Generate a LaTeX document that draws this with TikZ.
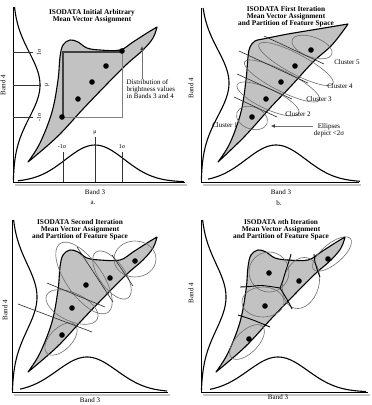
\documentclass[tikz,border=0pt]{standalone}
\usepackage{fontspec}
\setmainfont{Liberation Serif}
\usetikzlibrary{arrows.meta}
\definecolor{distfill}{HTML}{C2C2C2}
\definecolor{ellgray}{HTML}{6E6E6E}

% brightness distribution in bands 3 and 4 (panels a, c, d)
\tikzset{
  featsp/.pic={
    \filldraw[fill=distfill, draw=black, line width=1.1pt, line join=round]
      plot[smooth, tension=0.6] coordinates {(28,162) (40,143) (52,112) (58,80) (60,57) (63,45) (70,40) (78,42) (87,48) (100,50) (120,50) (133,42) (147,33) (157,27)}
      -- plot[smooth, tension=0.6] coordinates {(157,27) (153,38) (143,50) (127,64) (107,84) (83,109) (57,137) (28,162)}
      -- cycle;
  },
  % same distribution, straighter top edge (panel b)
  featspb/.pic={
    \filldraw[fill=distfill, draw=black, line width=1.1pt, line join=round]
      plot[smooth, tension=0.6] coordinates {(30,162) (42,143) (53,112) (58,80) (60,57) (62,47) (67,41) (75,39) (100,34) (130,29) (160,24)}
      -- plot[smooth, tension=0.6] coordinates {(160,24) (155,31) (143,46) (125,62) (104,85) (83,107) (57,136) (30,162)}
      -- cycle;
  },
}

\begin{document}
\begin{tikzpicture}[x=1pt, y=-1pt,
  axln/.style={draw=black, line width=0.9pt},
  axshd/.style={draw=black!22, line width=2.5pt},
  histo/.style={draw=black, line width=1.1pt},
  tck/.style={draw=black!80, line width=0.6pt},
  mvec/.style={circle, fill=black, inner sep=0pt, minimum size=5.6pt},
  ell/.style={draw=ellgray, line width=0.6pt},
  part/.style={draw=black!85, line width=0.6pt},
  cell/.style={draw=black, line width=0.9pt},
  ttl/.style={font=\fontsize{7.3}{7.2}\selectfont\bfseries, align=center, inner sep=0pt},
  lab/.style={font=\fontsize{7}{6.8}\selectfont, inner sep=0.5pt},
  sig/.style={font=\fontsize{6}{6}\selectfont, inner sep=0.5pt},
  ptr/.style={draw=black!55, line width=0.5pt, -{Triangle[length=4pt, width=3.5pt, fill=black]}},
]
\useasboundingbox (0,0) rectangle (372,405);

% ---------------- a. initial arbitrary mean vectors
\pic at (0,0) {featsp};
\draw[axshd] (15,185) -- (187,185);
\draw[axln] (13,7) -- (13,182) -- (185,182);
\draw[histo] plot[domain=7:180, samples=70] ({13+27*exp(-0.5*((\x-85)/32.5)^2)}, \x);
\draw[histo] plot[domain=18:184, samples=70] (\x, {182-37*exp(-0.5*((\x-95)/29.5)^2)});
% mean and +-1 sigma of each band
\draw[tck] (13,52) -- (33,52) (13,85) -- (41,85) (13,117) -- (33,117);
\node[sig, rotate=90] (s4p) at (39,52) {1σ};
\node[sig, rotate=90] (s4m) at (47,85) {μ};
\node[sig, rotate=90] (s4n) at (39,117) {-1σ};
\draw[tck] (63,152) -- (63,182) (95,137) -- (95,182) (122,152) -- (122,182);
\node[sig] (s3n) at (62,147) {-1σ};
\node[sig] (s3m) at (95,133) {μ};
\node[sig] (s3p) at (122,147) {1σ};
\draw[black!75, line width=1.1pt] (63,117) -- (63,52) -- (122,52);
\draw[black!50, line width=0.6pt] (122,52) -- (122,117) -- (63,117);
\node[mvec] (a1) at (62,117) {};
\node[mvec] (a2) at (78,99) {};
\node[mvec] (a3) at (92,82) {};
\node[mvec] (a4) at (106,66) {};
\node[mvec] (a5) at (122,51) {};
\node[lab, align=left, anchor=north west] (dista) at (126,79) {Distribution of\\brightness values\\in Bands 3 and 4};
\coordinate (tipa) at (142,46);
\draw[ptr] (tipa |- dista.north) -- (tipa);
\node[ttl] (ttla) at (92,16) {ISODATA Initial Arbitrary\\Mean Vector Assignment};
\node[lab] (b3a) at (95,192) {Band 3};
\node[lab, rotate=90] (b4a) at (3,85) {Band 4};
\node[lab] (capa) at (93,203) {a.};

% ---------------- b. first iteration
\begin{scope}[shift={(188,0)}]
\pic at (0,0) {featspb};
\draw[axshd] (15,185) -- (173,185);
\draw[axln] (13,8) -- (13,182) -- (171,182);
\draw[histo] plot[domain=8:180, samples=70] ({13+28*exp(-0.5*((\x-83)/33)^2)}, \x);
\draw[histo] plot[domain=20:172, samples=70] (\x, {182-37*exp(-0.5*((\x-88)/30)^2)});
% ellipses (< 2 sigma) and partition lines
\draw[ell, rotate around={-20:(64,118)}] (64,118) ellipse [x radius=16, y radius=11];
\draw[ell, rotate around={-25:(80,99)}] (80,99) ellipse [x radius=34, y radius=10];
\draw[ell, rotate around={-27:(94,81)}] (94,81) ellipse [x radius=42, y radius=10];
\draw[ell, rotate around={-28:(108,64)}] (108,64) ellipse [x radius=42, y radius=10];
\draw[ell, rotate around={-20:(124,47)}] (124,47) ellipse [x radius=21, y radius=10];
\draw[part] (46,97) -- (89,117);
\draw[part] (49,74) -- (104,99);
\draw[part] (51,51) -- (120,83);
\draw[part] (76,36) -- (136,64);
\node[mvec] (b1) at (64,117) {};
\node[mvec] (b2) at (78,99) {};
\node[mvec] (b3) at (93,82) {};
\node[mvec] (b4) at (107,66) {};
\node[mvec] (b5) at (123,50) {};
\node[lab] (c5b) at (159,62) {Cluster 5};
\node[lab] (c4b) at (152,86) {Cluster 4};
\node[lab] (c3b) at (131,99) {Cluster 3};
\node[lab] (c2b) at (110,114) {Cluster 2};
\node[lab] (c1b) at (37,125) {Cluster 1};
\node[lab, align=center] (elllb) at (141,130) {Ellipses\\depict <2σ};
\coordinate (ellb) at (83,126);
\draw[ptr] (elllb.west |- ellb) -- (ellb);
\node[ttl] (ttlb) at (98,17) {ISODATA First Iteration\\Mean Vector Assignment\\and Partition of Feature Space};
\node[lab] (b3b) at (93,192) {Band 3};
\node[lab, rotate=90] (b4b) at (3,88) {Band 4};
\node[lab] (capb) at (91,203) {b.};
\end{scope}

% ---------------- c. second iteration
\begin{scope}[shift={(0,210)}]
\pic at (0,0) {featsp};
\draw[axshd] (14,185) -- (170,185);
\draw[axln] (12,10) -- (12,182) -- (168,182);
\draw[histo] plot[domain=10:180, samples=70] ({12+25*exp(-0.5*((\x-87)/33)^2)}, \x);
\draw[histo] plot[domain=20:167, samples=70] (\x, {182-35*exp(-0.5*((\x-87)/30)^2)});
\draw[ell] (135,49) ellipse [x radius=21, y radius=18];
\draw[ell, rotate around={-55:(112,65)}] (112,65) ellipse [x radius=28, y radius=13];
\draw[ell, rotate around={-55:(84,68)}] (84,68) ellipse [x radius=42, y radius=18];
\draw[ell, rotate around={-25:(72,97)}] (72,97) ellipse [x radius=28, y radius=14];
\draw[ell, rotate around={45:(61,129)}] (61,129) ellipse [x radius=20, y radius=11];
\draw[part] (18,94) -- (92,122);
\draw[part] (47,73) -- (105,97);
\draw[part] (77,37) -- (113,92);
\draw[part] (112,45) -- (133,76);
\node[mvec] (c1) at (62,125) {};
\node[mvec] (c2) at (72,98) {};
\node[mvec] (c3) at (86,75) {};
\node[mvec] (c4) at (110,68) {};
\node[mvec] (c5) at (135,51) {};
\node[ttl] (ttlc) at (80,20) {ISODATA Second Iteration\\Mean Vector Assignment\\and Partition of Feature Space};
\node[lab] (b3c) at (90,190) {Band 3};
\node[lab, rotate=90] (b4c) at (5,100) {Band 4};
\end{scope}

% ---------------- d. nth iteration
\begin{scope}[shift={(188,210)}]
\pic at (0,0) {featsp};
\draw[axshd] (15,185) -- (182,185);
\draw[axln] (13,10) -- (13,182) -- (180,182);
\draw[histo] plot[domain=10:180, samples=70] ({13+25*exp(-0.5*((\x-87)/33)^2)}, \x);
\draw[histo] plot[domain=22:178, samples=70] (\x, {182-35*exp(-0.5*((\x-90)/30)^2)});
\draw[ell] (81,62) ellipse [x radius=20, y radius=20];
\draw[ell, rotate around={-15:(113,73)}] (113,73) ellipse [x radius=18, y radius=26];
\draw[ell] (75,92) ellipse [x radius=21, y radius=15];
\draw[ell, rotate around={45:(59,132)}] (59,132) ellipse [x radius=22, y radius=11];
\draw[ell, rotate around={40:(144,44)}] (144,44) ellipse [x radius=24, y radius=10];
% final cell boundaries
\draw[cell] plot[smooth] coordinates {(52,77) (62,76.5) (74,75.5) (92,78)};
\draw[cell] plot[smooth] coordinates {(92,78) (95,70) (98,60) (102,48) (103,44)};
\draw[cell] plot[smooth] coordinates {(92,78) (97,86) (101,93) (104,99)};
\draw[cell] plot[smooth] coordinates {(126,44) (127,52) (130,62) (132,67)};
\draw[cell] plot[smooth] coordinates {(50,105) (65,110) (82,117)};
\node[mvec] (d1) at (61,129) {};
\node[mvec] (d2) at (77,96) {};
\node[mvec] (d3) at (81,63) {};
\node[mvec] (d4) at (111,71) {};
\node[mvec] (d5) at (140,49) {};
\node[ttl] (ttld) at (93,20) {ISODATA \textit{n}th Iteration\\Mean Vector Assignment\\and Partition of Feature Space};
\node[lab] (b3d) at (90,187) {Band 3};
\node[lab, rotate=90] (b4d) at (3,83) {Band 4};
\end{scope}
\end{tikzpicture}
\end{document}
